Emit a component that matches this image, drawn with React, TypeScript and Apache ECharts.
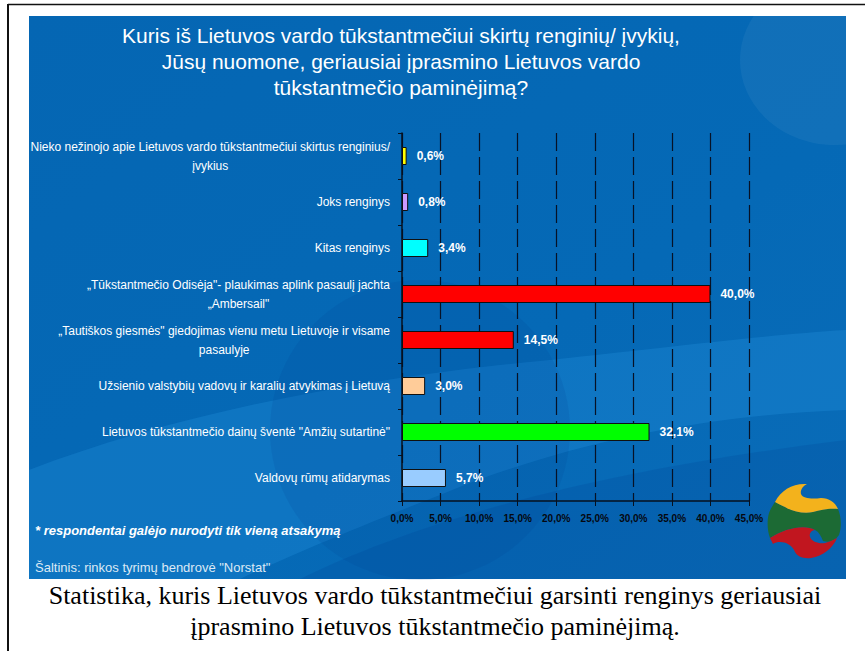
import React, { useEffect, useRef } from 'react';
import * as echarts from 'echarts';

const categories: string[] = [
  'Nieko nežinojo apie Lietuvos vardo tūkstantmečiui skirtus renginius/\nįvykius',
  'Joks renginys',
  'Kitas renginys',
  '„Tūkstantmečio Odisėja"- plaukimas aplink pasaulį jachta\n„Ambersail"',
  '„Tautiškos giesmės" giedojimas vienu metu Lietuvoje ir visame\npasaulyje',
  'Užsienio valstybių vadovų ir karalių atvykimas į Lietuvą',
  'Lietuvos tūkstantmečio dainų šventė "Amžių sutartinė"',
  'Valdovų rūmų atidarymas',
];
const values: number[] = [0.6, 0.8, 3.4, 40.0, 14.5, 3.0, 32.1, 5.7];
const barColors: string[] = ['#ffff00', '#cc99ff', '#00ffff', '#ff0000', '#ff0000', '#ffcc99', '#00ff00', '#99ccff'];
const axisMin = 0;
const axisMax = 45;
const axisStep = 5;

const titleLines: string[] = [
  'Kuris iš Lietuvos vardo tūkstantmečiui skirtų renginių/ įvykių,',
  'Jūsų nuomone, geriausiai įprasmino Lietuvos vardo',
  'tūkstantmečio paminėjimą?',
];
const footnote = '* respondentai galėjo nurodyti tik vieną atsakymą';
const sourceNote = 'Šaltinis: rinkos tyrimų bendrovė "Norstat"';
const captionLines: string[] = [
  'Statistika, kuris Lietuvos vardo tūkstantmečiui garsinti renginys geriausiai',
  'įprasmino Lietuvos tūkstantmečio paminėjimą.',
];

const fmt = (v: number) => v.toFixed(1).replace('.', ',') + '%';

// decorative shapes
echarts.graphic.registerShape(
  'swooshA',
  echarts.graphic.extendPath(
    'M 29 470 C 160 420 320 385 500 365 C 650 350 760 335 846 330 L 846 410 C 700 415 560 445 440 495 C 350 530 280 560 240 579 L 29 579 Z',
    {}
  )
);
echarts.graphic.registerShape(
  'swooshB',
  echarts.graphic.extendPath(
    'M 300 579 C 420 520 600 470 846 440 L 846 579 Z',
    {}
  )
);
echarts.graphic.registerShape(
  'logoY',
  echarts.graphic.extendPath(
    'M 12 22 C 18 10 30 3 44 4 C 40 6 37 10 38 14 C 40 19 50 19 58 18 C 66 18 72 22 75 29 C 66 28 58 30 50 32 C 42 34 30 32 22 27 C 18 25 15 24 12 22 Z',
    {}
  )
);
echarts.graphic.registerShape(
  'logoG',
  echarts.graphic.extendPath(
    'M 12 22 C 15 24 18 25 22 27 C 30 32 42 34 50 32 C 58 30 66 28 75 29 C 78 36 79 46 76 55 C 72 61 66 63 60 61 C 58 56 56 52 52 50 C 42 44 22 48 7 58 C 4 50 4 40 6 33 C 8 28 10 25 12 22 Z',
    {}
  )
);
echarts.graphic.registerShape(
  'logoR',
  echarts.graphic.extendPath(
    'M 7 58 C 22 48 42 44 52 50 C 48 50 46 54 47 57 C 49 62 56 64 62 63 C 66 62 70 60 74 58 C 70 68 60 76 48 78 C 40 79 34 76 32 72 C 28 62 16 60 10 64 C 9 62 8 60 7 58 Z',
    {}
  )
);

export default function App() {
  const ref = useRef<HTMLDivElement>(null);
  useEffect(() => {
    const chart = echarts.init(ref.current!, null, { renderer: 'svg' });
    const sans = "'Liberation Sans', Arial, sans-serif";
    const option: any = {
      animation: false,
      backgroundColor: '#ffffff',
      title: [
        {
          text: titleLines.join('\n'),
          left: 401,
          top: 22,
          padding: 0,
          textAlign: 'center',
          textStyle: { color: '#ffffff', fontSize: 21, fontWeight: 'normal', fontFamily: sans, lineHeight: 26 },
        },
        {
          text: footnote,
          left: 35,
          top: 524,
          padding: 0,
          textStyle: { color: '#ffffff', fontSize: 13, fontWeight: 'bold', fontStyle: 'italic', fontFamily: sans },
        },
        {
          text: sourceNote,
          left: 35,
          top: 561,
          padding: 0,
          textStyle: { color: '#dce9f5', fontSize: 13, fontWeight: 'normal', fontFamily: sans },
        },
        {
          text: captionLines.join('\n'),
          left: 435,
          top: 580,
          padding: 0,
          textAlign: 'center',
          textStyle: { color: '#000000', fontSize: 26, fontWeight: 'normal', fontFamily: "'Liberation Serif', 'Times New Roman', serif", lineHeight: 31 },
        },
      ],
      grid: { left: 402, right: 116, top: 133, bottom: 150, containLabel: false },
      xAxis: {
        type: 'value',
        min: axisMin,
        max: axisMax,
        interval: axisStep,
        axisLine: { show: true, lineStyle: { color: '#06101f', width: 1.5 } },
        axisTick: { show: true, length: 5, lineStyle: { color: '#06101f', width: 1 } },
        axisLabel: { color: '#05080f', fontSize: 10, fontWeight: 'bold', fontFamily: sans, margin: 12, formatter: fmt },
        splitLine: { show: true, lineStyle: { color: '#071226', width: 1.2, type: [18, 6] } },
      },
      yAxis: {
        type: 'category',
        inverse: true,
        data: categories,
        axisLine: { show: true, lineStyle: { color: '#06101f', width: 1.5 } },
        axisTick: { show: true, length: 4, lineStyle: { color: '#06101f', width: 1 } },
        axisLabel: {
          margin: 12,
          color: '#ffffff',
          fontSize: 12,
          fontFamily: sans,
          lineHeight: 19,
          formatter: (v: string) => v.split('\n').map((l) => `{c|${l}}`).join('\n'),
          rich: { c: { align: 'center', color: '#ffffff', fontSize: 12, fontFamily: sans, lineHeight: 19 } },
        },
        splitLine: { show: false },
      },
      series: [
        {
          type: 'bar',
          barWidth: 18,
          data: values.map((v, i) => ({ value: v, itemStyle: { color: barColors[i] } })),
          itemStyle: { borderColor: '#101010', borderWidth: 1 },
          label: {
            show: true,
            position: 'right',
            distance: 10,
            color: '#ffffff',
            fontSize: 12,
            fontWeight: 'bold',
            fontFamily: sans,
            formatter: (p: any) => fmt(p.value),
          },
          z: 3,
        },
      ],
      graphic: [
        {
          type: 'rect',
          z: -100,
          silent: true,
          shape: { x: 29, y: 16, width: 817, height: 563 },
          style: {
            fill: new echarts.graphic.LinearGradient(0, 0, 1, 1, [
              { offset: 0, color: '#0566b3' },
              { offset: 0.6, color: '#0569b6' },
              { offset: 1, color: '#0a6cb8' },
            ]),
          },
        },
        { type: 'ellipse', z: -99, silent: true, shape: { cx: 835, cy: 60, rx: 95, ry: 85 }, style: { fill: 'rgba(255,255,255,0.05)' } },
        { type: 'rect', z: -98, silent: true, shape: { x: 846, y: 16, width: 19, height: 200 }, style: { fill: '#ffffff' } },
        { type: 'swooshA', z: -97, silent: true, x: 0, y: 0, style: { fill: 'rgba(40,150,225,0.28)' } },
        { type: 'swooshB', z: -96, silent: true, x: 0, y: 0, style: { fill: 'rgba(0,70,150,0.22)' } },
        { type: 'circle', z: -95, silent: true, shape: { cx: 420, cy: 430, r: 150 }, style: { fill: 'rgba(0,60,140,0.12)' } },
        { type: 'logoG', z: 50, silent: true, x: 763, y: 480, style: { fill: '#1c6a34' } },
        { type: 'logoY', z: 51, silent: true, x: 763, y: 480, style: { fill: '#f3b21c' } },
        { type: 'logoR', z: 51, silent: true, x: 763, y: 480, style: { fill: '#c1161f' } },
        { type: 'line', z: 60, silent: true, shape: { x1: 8, y1: 4.5, x2: 865, y2: 4.5 }, style: { stroke: '#111', lineWidth: 1.5 } },
        { type: 'line', z: 60, silent: true, shape: { x1: 8, y1: 4, x2: 8, y2: 651 }, style: { stroke: '#111', lineWidth: 2 } },
      ],
    };
    chart.setOption(option);
    return () => chart.dispose();
  }, []);
  return <div ref={ref} style={{ position: 'absolute', left: 0, top: 0, width: 865, height: 651 }} />;
}
